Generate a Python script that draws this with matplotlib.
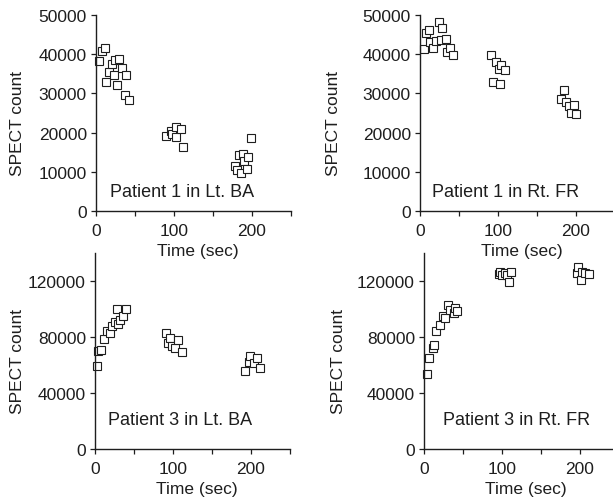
import matplotlib
matplotlib.use("Agg")
import matplotlib.pyplot as plt

plt.rcParams['font.family'] = ['Liberation Sans', 'DejaVu Sans']

# Patient 1, Lt. BA
t_p1_ba = [4, 8, 11, 13, 17, 20, 23, 25, 27, 30, 33, 37, 39, 42,
           90, 96, 97, 102, 103, 109, 111,
           178, 181, 183, 186, 188, 190, 193, 195, 199]
c_p1_ba = [38200, 40800, 41500, 33000, 35500, 37500, 34700, 38500, 32100, 38800, 36500, 29600, 34700, 28300,
           19200, 20400, 19600, 21500, 19000, 21000, 16400,
           11500, 10500, 14200, 9600, 14500, 12800, 10700, 13900, 18600]

# Patient 1, Rt. FR
t_p1_fr = [5, 8, 11, 13, 17, 20, 24, 27, 28, 33, 35, 39, 42,
           91, 94, 98, 101, 103, 104, 109,
           181, 184, 187, 191, 194, 198, 200]
c_p1_fr = [41300, 45300, 46300, 43000, 41500, 43400, 48100, 43700, 46600, 43900, 40500, 41700, 39800,
           39800, 33000, 37900, 36200, 32500, 37200, 36000,
           28500, 30900, 27900, 26800, 25100, 27000, 24700]

# Patient 3, Lt. BA
t_p3_ba = [3, 4, 8, 11, 15, 19, 22, 26, 28, 30, 32, 36, 40,
           91, 94, 96, 99, 103, 107, 111,
           192, 197, 199, 204, 208, 211]
c_p3_ba = [59500, 70000, 71000, 78500, 84000, 83000, 88000, 91000, 100000, 89000, 92000, 95000, 100000,
           82800, 75600, 79200, 73900, 72500, 78000, 69600,
           55900, 61900, 66700, 61200, 65300, 57600]

# Patient 3, Rt. FR
t_p3_fr = [4, 7, 11, 13, 16, 20, 24, 27, 31, 33, 38, 40, 42,
           96, 97, 100, 104, 107, 109, 111,
           196, 198, 201, 202, 207, 212]
c_p3_fr = [53500, 65300, 72500, 74400, 84500, 88800, 94800, 93600, 103000, 99600, 97200, 100800, 98900,
           124800, 126700, 124000, 126000, 124300, 119500, 126700,
           126000, 130000, 121000, 126700, 126000, 125300]

yt_small = [0, 10000, 20000, 30000, 40000, 50000]
yt_big = [0, 40000, 80000, 120000]

# data, caption, axes origin (px), ymax, yticks, caption pos, ylabel x
panels = [
    (t_p1_ba, c_p1_ba, "Patient 1 in Lt. BA", (96, 212), 50000, yt_small, (0.44, 0.10), -0.40),
    (t_p1_fr, c_p1_fr, "Patient 1 in Rt. FR", (420, 212), 50000, yt_small, (0.44, 0.10), -0.445),
    (t_p3_ba, c_p3_ba, "Patient 3 in Lt. BA", (95, 450), 140000, yt_big, (0.435, 0.153), -0.395),
    (t_p3_fr, c_p3_fr, "Patient 3 in Rt. FR", (424, 450), 140000, yt_big, (0.477, 0.153), -0.44),
]

W, H = 613, 502
fig = plt.figure(figsize=(W / 100, H / 100), dpi=100)
fig.patch.set_facecolor("white")
ink = "#1e1e1e"

for t, c, label, (x0, y0), ymax, yticks, (tx, ty), ylx in panels:
    ax = fig.add_axes([x0 / W, (H - y0) / H, 195 / W, 196 / H])
    ax.patch.set_alpha(0)
    ax.plot(t, c, linestyle="none", marker="s", markersize=5.5,
            markerfacecolor="white", markeredgecolor=ink, markeredgewidth=0.8, clip_on=False)
    ax.set_xlim(0, 250)
    ax.set_ylim(0, ymax)
    ax.set_xticks([0, 50, 100, 150, 200, 250])
    ax.set_xticklabels(["0", "", "100", "", "200", ""])
    ax.set_yticks(yticks)
    ax.set_yticklabels([str(v) for v in yticks])
    for s in ["top", "right"]:
        ax.spines[s].set_visible(False)
    for s in ["left", "bottom"]:
        ax.spines[s].set_linewidth(1.0)
        ax.spines[s].set_color(ink)
    ax.tick_params(direction="out", length=3.5, width=0.9, labelsize=12.5, colors=ink)
    ax.tick_params(axis="x", pad=5)
    ax.tick_params(axis="y", pad=3)
    ax.set_xlabel("Time (sec)", fontsize=12.5, va="center", color=ink)
    ax.xaxis.set_label_coords(0.52, -0.2)
    ax.set_ylabel("SPECT count", fontsize=12.5, va="center", color=ink)
    ax.yaxis.set_label_coords(ylx, 0.45)
    ax.text(tx, ty, label, transform=ax.transAxes, ha="center", va="center", fontsize=13, color=ink)

fig.savefig("out.png", dpi=100, facecolor="white")
